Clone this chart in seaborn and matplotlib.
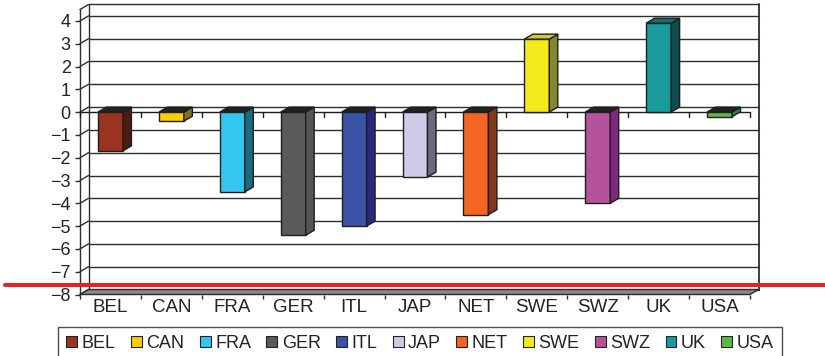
import numpy as np
import pandas as pd
import matplotlib
matplotlib.use("Agg")
import matplotlib.pyplot as plt
from matplotlib.patches import Polygon, Patch
from matplotlib.lines import Line2D
import seaborn as sns

# Country codes and their values
countries = ["BEL", "CAN", "FRA", "GER", "ITL", "JAP", "NET", "SWE", "SWZ", "UK", "USA"]
values = [-1.7, -0.4, -3.5, -5.4, -5.0, -2.85, -4.5, 3.2, -4.0, 3.9, -0.2]
y_ticks = list(range(-8, 5))

# Face colours for the pseudo-3D columns
front_colors = ["#9a3320", "#ffcc00", "#35c6ef", "#5a5a5a", "#3a53a4", "#cdcbe6",
                "#f26522", "#f2ea1c", "#b5529b", "#1a9a9a", "#5db846"]
side_colors = ["#4f1a10", "#8a6e1e", "#1a6a80", "#555555", "#28297a", "#6a6a80",
               "#84381a", "#84862e", "#7e287f", "#0f4c4c", "#1f8a3c"]
top_colors = ["#222222", "#222222", "#222222", "#222222", "#222222", "#222222",
              "#222222", "#cfc93a", "#222222", "#137070", "#222222"]

sns.set_theme(style="white")
plt.rcParams["font.family"] = ["Liberation Sans", "DejaVu Sans"]

W, H = 825, 356
fig = plt.figure(figsize=(W / 100, H / 100), dpi=100)
ax = fig.add_axes([80 / W, 61.5 / H, 670 / W, 285 / H])
ax.patch.set_visible(False)

df = pd.DataFrame({"country": countries, "value": values})
sns.barplot(data=df, x="country", y="value", hue="country", palette=front_colors,
            saturation=1, width=0.41, edgecolor="#1e1e1e", linewidth=1.0,
            legend=False, ax=ax, zorder=4)

ax.set_xlim(-0.5, len(countries) - 0.5)
ax.set_ylim(-8, 4.5)
for s in ax.spines.values():
    s.set_visible(False)

# depth offset in data units (pixels -> data)
bb = ax.get_window_extent()
px_x = bb.width / len(countries)
px_y = bb.height / 12.5
dx, dy = 8.5 / px_x, 5.0 / px_y

x0, x1 = -0.5, len(countries) - 0.5
ymin, ymax = -8, 4.5
grid_c = "#2e2e2e"
lw = 1.0

# back wall
for y in y_ticks:
    ax.plot([x0 + dx, x1 + dx], [y + dy, y + dy], color=grid_c, lw=lw, clip_on=False, zorder=1)
ax.plot([x0 + dx, x1 + dx], [ymax + dy, ymax + dy], color=grid_c, lw=lw, clip_on=False, zorder=1)
ax.plot([x0 + dx, x0 + dx], [ymin + dy, ymax + dy], color=grid_c, lw=lw, clip_on=False, zorder=1)
ax.plot([x1 + dx, x1 + dx], [ymin + dy, ymax + dy], color=grid_c, lw=lw + 0.3, clip_on=False, zorder=1)

# side wall
for y in y_ticks + [ymax]:
    ax.plot([x0, x0 + dx], [y, y + dy], color=grid_c, lw=lw, clip_on=False, zorder=1)
ax.plot([x0, x0], [ymin, ymax], color=grid_c, lw=lw, clip_on=False, zorder=2)

# floor
ax.add_patch(Polygon([(x0, ymin), (x1, ymin), (x1 + dx, ymin + dy), (x0 + dx, ymin + dy)],
                     closed=True, facecolor="#88888a", edgecolor="#2a2a2a", lw=lw,
                     clip_on=False, zorder=2))

# category axis at zero with ticks between categories
ax.plot([x0, x1], [0, 0], color="#1e1e1e", lw=lw, clip_on=False, zorder=2)
for b in np.arange(x0, x1 + 0.01, 1.0):
    ax.plot([b, b], [0, -5 / px_y], color="#1e1e1e", lw=lw, clip_on=False, zorder=2)

# side and top faces of the columns
for patch, v, sc, tc in zip(ax.patches, values, side_colors, top_colors):
    bx0 = patch.get_x()
    bx1 = bx0 + patch.get_width()
    lo, hi = min(0, v), max(0, v)
    ax.add_patch(Polygon([(bx1, lo), (bx1, hi), (bx1 + dx, hi + dy), (bx1 + dx, lo + dy)],
                         closed=True, facecolor=sc, edgecolor="#1e1e1e", lw=1.0,
                         clip_on=False, zorder=4))
    ax.add_patch(Polygon([(bx0, hi), (bx1, hi), (bx1 + dx, hi + dy), (bx0 + dx, hi + dy)],
                         closed=True, facecolor=tc, edgecolor="#1e1e1e", lw=1.0,
                         clip_on=False, zorder=4))

# ticks and labels
ax.set_yticks(y_ticks)
ax.tick_params(axis="y", left=True, direction="out", length=3.6, width=lw,
               color="#2e2e2e", pad=3, labelsize=13, labelcolor="#222222")
ax.set_xticks(range(len(countries)))
ax.set_xticklabels(countries)
ax.set_xticks(np.arange(x0, x1 + 0.01, 1.0), minor=True)
ax.tick_params(axis="x", which="major", bottom=True, length=0, pad=3.5,
               labelsize=13.5, labelcolor="#222222")
ax.tick_params(axis="x", which="minor", bottom=True, direction="out", length=3,
               width=lw, color="#2e2e2e")
ax.set_xlabel("")
ax.set_ylabel("")

# red rule across the figure
ry = (H - 284.5) / H
fig.add_artist(Line2D([5 / W, 1.0], [ry, ry], transform=fig.transFigure,
                      color="#e8202a", lw=2.9, zorder=10))

# legend
handles = [Patch(facecolor=c, edgecolor="#222222", lw=0.8, label=n)
           for n, c in zip(countries, front_colors)]
leg = fig.legend(handles=handles, loc="upper center", bbox_to_anchor=(420 / W, 29 / H),
                 bbox_transform=fig.transFigure, ncol=len(countries), fontsize=13,
                 frameon=True, fancybox=False, edgecolor="#222222",
                 handlelength=0.6, handleheight=0.6, handletextpad=0.25,
                 columnspacing=0.85, borderpad=0.45, borderaxespad=0)
leg.get_frame().set_linewidth(1.0)
for t in leg.get_texts():
    t.set_color("#222222")

fig.savefig("out.png", dpi=100)
